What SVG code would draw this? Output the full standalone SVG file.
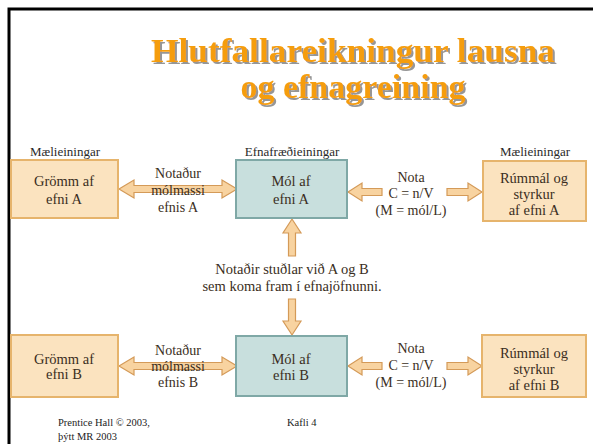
<svg xmlns="http://www.w3.org/2000/svg" width="593" height="444" viewBox="0 0 593 444">
<defs>
<filter id="sh" x="-5%" y="-20%" width="110%" height="140%">
<feDropShadow dx="2" dy="2" stdDeviation="0.6" flood-color="#8a8a8a" flood-opacity="0.9"/>
</filter>
</defs>
<style>
.t{font-family:"Liberation Serif","Times New Roman",serif;fill:#3a2e22;text-anchor:middle}
.bx{font-size:14.5px}
.lb{font-size:13px;fill:#2a2a2a}
.md{font-size:14px}
.mc{font-size:14.5px}
.ttl{font-family:"Liberation Serif","Times New Roman",serif;font-weight:bold;font-size:34px;text-anchor:middle;fill:#f59d0e;filter:url(#sh)}
.ft{font-family:"Liberation Serif","Times New Roman",serif;font-size:10.5px;fill:#222}
.ob{fill:#fbe3bf;stroke:#e6b46c;stroke-width:2}
.tb{fill:#c8dfdd;stroke:#7fa8a6;stroke-width:2}
.ar{fill:#f8d3a0;stroke:#d49a58;stroke-width:1.2}
</style>
<rect x="0" y="0" width="593" height="444" fill="#fff"/>
<path d="M9,444 L9,9 L593,9" fill="none" stroke="#000" stroke-width="3"/>
<g id="title">
<text class="ttl" x="353" y="62" textLength="404" lengthAdjust="spacingAndGlyphs">Hlutfallareikningur lausna</text>
<text class="ttl" x="353" y="98">og efnagreining</text>
</g>
<g id="connectors">
<path class="ar" d="M119,189 L134,180 L134,185.5 L222,185.5 L222,180 L237,189 L222,198 L222,192.5 L134,192.5 L134,198 Z"/>
<path class="ar" d="M348,192 L362,183 L362,188.5 L382,188.5 L382,195.5 L362,195.5 L362,201 Z"/>
<path class="ar" d="M482,192 L468,183 L468,188.5 L447,188.5 L447,195.5 L468,195.5 L468,201 Z"/>
<path class="ar" d="M292,219 L283,233 L288.5,233 L288.5,256 L295.5,256 L295.5,233 L301,233 Z"/>
<path class="ar" d="M292,335 L283,321 L288.5,321 L288.5,299 L295.5,299 L295.5,321 L301,321 Z"/>
<path class="ar" d="M119,366 L134,357 L134,362.5 L222,362.5 L222,357 L237,366 L222,375 L222,369.5 L134,369.5 L134,375 Z"/>
<path class="ar" d="M348,366 L362,357 L362,362.5 L382,362.5 L382,369.5 L362,369.5 L362,375 Z"/>
<path class="ar" d="M482,366 L468,357 L468,362.5 L447,362.5 L447,369.5 L468,369.5 L468,375 Z"/>
</g>
<g id="gromm-a">
<text class="t lb" x="65" y="156">Mælieiningar</text>
<rect class="ob" x="11" y="160" width="107" height="58"/>
<text class="t bx" x="64" y="186">Grömm af</text>
<text class="t bx" x="64" y="204">efni A</text>
</g>
<g id="mol-a">
<text class="t lb" x="292" y="156">Efnafræðieiningar</text>
<rect class="tb" x="236" y="160" width="111" height="58"/>
<text class="t bx" x="291" y="186">Mól af</text>
<text class="t bx" x="291" y="204">efni A</text>
</g>
<g id="rummal-a">
<text class="t lb" x="535" y="156">Mælieiningar</text>
<rect class="ob" x="483" y="161" width="103" height="60"/>
<text class="t bx" x="534" y="183">Rúmmál og</text>
<text class="t bx" x="534" y="199">styrkur</text>
<text class="t bx" x="534" y="215">af efni A</text>
</g>
<g id="label-a1">
<text class="t md" x="178" y="178">Notaður</text>
<text class="t md" x="178" y="195">mólmassi</text>
<text class="t md" x="178" y="212">efnis A</text>
</g>
<g id="label-a2">
<text class="t md" x="411" y="182">Nota</text>
<text class="t md" x="411" y="198">C = n/V</text>
<text class="t md" x="411" y="215">(M = mól/L)</text>
</g>
<g id="label-mid">
<text class="t mc" x="292" y="274">Notaðir stuðlar við A og B</text>
<text class="t mc" x="292" y="291">sem koma fram í efnajöfnunni.</text>
</g>
<g id="gromm-b">
<rect class="ob" x="11" y="335" width="107" height="62"/>
<text class="t bx" x="64" y="364">Grömm af</text>
<text class="t bx" x="64" y="379">efni B</text>
</g>
<g id="mol-b">
<rect class="tb" x="236" y="336" width="111" height="60"/>
<text class="t bx" x="291" y="364">Mól af</text>
<text class="t bx" x="291" y="380">efni B</text>
</g>
<g id="rummal-b">
<rect class="ob" x="482" y="335" width="104" height="62"/>
<text class="t bx" x="534" y="358">Rúmmál og</text>
<text class="t bx" x="534" y="374">styrkur</text>
<text class="t bx" x="534" y="390">af efni B</text>
</g>
<g id="label-b1">
<text class="t md" x="178" y="355">Notaður</text>
<text class="t md" x="178" y="371">mólmassi</text>
<text class="t md" x="178" y="387">efnis B</text>
</g>
<g id="label-b2">
<text class="t md" x="411" y="353">Nota</text>
<text class="t md" x="411" y="370">C = n/V</text>
<text class="t md" x="411" y="387">(M = mól/L)</text>
</g>
<g id="footer">
<text class="ft" x="58" y="426">Prentice Hall © 2003,</text>
<text class="ft" x="58" y="440">þýtt MR 2003</text>
<text class="ft" x="287" y="426">Kafli 4</text>
</g>
</svg>
